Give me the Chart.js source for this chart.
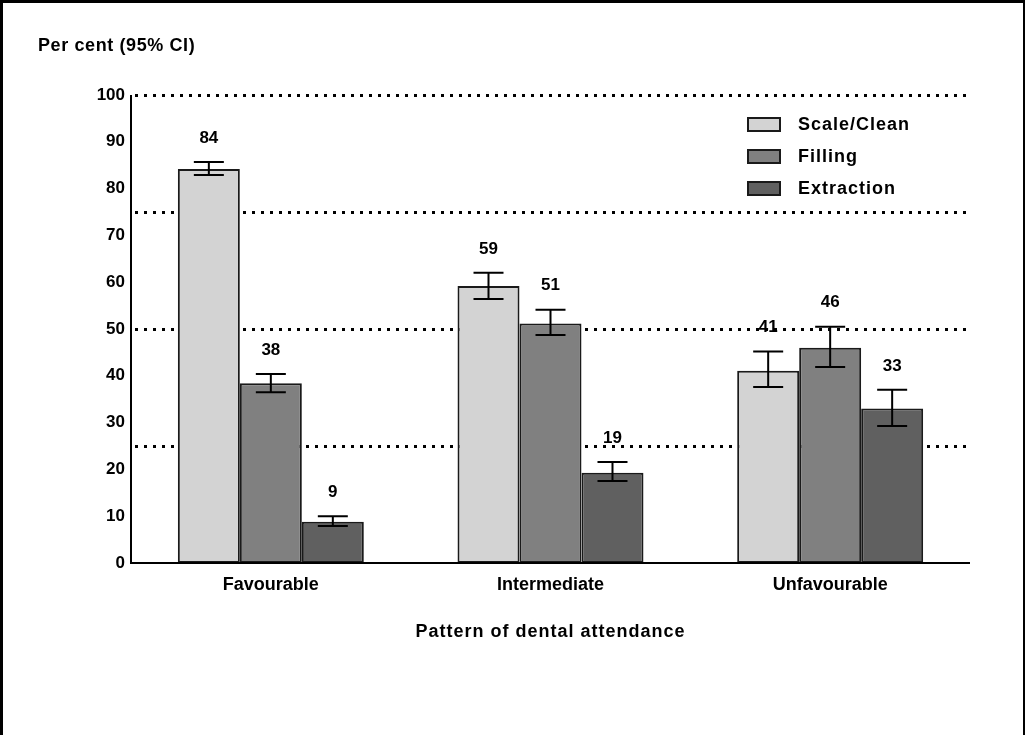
<!DOCTYPE html>
<html>
<head>
<meta charset="utf-8">
<script src="https://cdn.jsdelivr.net/npm/chart.js@4.4.1/dist/chart.umd.min.js"></script>
<style>
  html, body { margin: 0; padding: 0; background: #fff; }
  #wrap { width: 1025px; height: 735px; position: relative; }
</style>
</head>
<body>
<div id="wrap"><canvas id="c" width="1025" height="735"></canvas></div>
<script>
// ---- data ----
const categories = ['Favourable', 'Intermediate', 'Unfavourable'];
const seriesNames = ['Scale/Clean', 'Filling', 'Extraction'];
const scaleClean = [84.2, 59.2, 41.1];
const filling = [38.4, 51.2, 46.0];
const extraction = [8.8, 19.3, 33.0];
const scaleCleanLow = [82.9, 56.4, 37.6];
const scaleCleanHigh = [85.7, 62.0, 45.2];
const fillingLow = [36.5, 48.7, 41.9];
const fillingHigh = [40.4, 54.1, 50.5];
const extractionLow = [7.9, 17.5, 29.3];
const extractionHigh = [10.0, 21.6, 37.0];
const valueLabels = [[84, 59, 41], [38, 51, 46], [9, 19, 33]];
const yTicks = [0, 10, 20, 30, 40, 50, 60, 70, 80, 90, 100];
const gridLevels = [25, 50, 75, 100];
const yTitle = 'Per cent (95% CI)';
const xTitle = 'Pattern of dental attendance';

const colors = ['#d3d3d3', '#808080', '#606060'];
const lows = [scaleCleanLow, fillingLow, extractionLow];
const highs = [scaleCleanHigh, fillingHigh, extractionHigh];
const FONT = 'Arial, "Liberation Sans", sans-serif';

const decorPlugin = {
  id: 'decor',
  beforeDatasetsDraw(chart) {
    const ctx = chart.ctx, ys = chart.scales.y, a = chart.chartArea;
    ctx.save();
    ctx.strokeStyle = '#000';
    ctx.lineWidth = 3;
    ctx.setLineDash([3, 6]);
    gridLevels.forEach(v => {
      const y = Math.round(ys.getPixelForValue(v)) + 0.5;
      ctx.beginPath();
      ctx.moveTo(a.left + 4, y);
      ctx.lineTo(a.right, y);
      ctx.stroke();
    });
    ctx.restore();
  },
  afterDatasetsDraw(chart) {
    const ctx = chart.ctx, ys = chart.scales.y, a = chart.chartArea;
    ctx.save();
    chart.data.datasets.forEach((ds, di) => {
      const meta = chart.getDatasetMeta(di);
      meta.data.forEach((bar, i) => {
        const x = bar.x;
        const yh = ys.getPixelForValue(highs[di][i]);
        const yl = ys.getPixelForValue(lows[di][i]);
        ctx.strokeStyle = '#000';
        ctx.lineWidth = 2;
        ctx.setLineDash([]);
        ctx.beginPath();
        ctx.moveTo(x, yh); ctx.lineTo(x, yl);
        ctx.moveTo(x - 15, yh); ctx.lineTo(x + 15, yh);
        ctx.moveTo(x - 15, yl); ctx.lineTo(x + 15, yl);
        ctx.stroke();
        ctx.fillStyle = '#000';
        ctx.font = 'bold 17px ' + FONT;
        ctx.textAlign = 'center';
        ctx.textBaseline = 'middle';
        ctx.fillText(String(valueLabels[di][i]), x, yh - 24);
      });
    });
    ctx.strokeStyle = '#000';
    ctx.lineWidth = 2;
    ctx.beginPath();
    ctx.moveTo(a.left, a.top); ctx.lineTo(a.left, a.bottom);
    ctx.lineTo(a.right, a.bottom);
    ctx.stroke();
    ctx.restore();
  },
  afterDraw(chart) {
    const ctx = chart.ctx, a = chart.chartArea;
    ctx.save();
    ctx.fillStyle = '#000';
    ctx.fillRect(0, 0, 3, 735);
    ctx.fillRect(0, 0, 1025, 3);
    ctx.fillRect(1023, 0, 2, 735);
    ctx.font = 'bold 18px ' + FONT;
    ctx.textBaseline = 'middle';
    ctx.textAlign = 'left';
    try { ctx.letterSpacing = '0.6px'; } catch (e) {}
    ctx.fillText(yTitle, 38, 46);
    ctx.textAlign = 'center';
    try { ctx.letterSpacing = '1px'; } catch (e) {}
    ctx.fillText(xTitle, (a.left + a.right) / 2, 632);
    chart.data.datasets.forEach((ds, di) => {
      const yc = 124 + di * 32;
      ctx.fillStyle = ds.backgroundColor;
      ctx.fillRect(748, yc - 6, 32, 13);
      ctx.strokeStyle = '#1a1a1a';
      ctx.lineWidth = 2;
      ctx.strokeRect(748, yc - 6, 32, 13);
      ctx.fillStyle = '#000';
      ctx.textAlign = 'left';
      ctx.fillText(ds.label, 798, yc + 1);
    });
    ctx.restore();
  }
};

new Chart(document.getElementById('c'), {
  type: 'bar',
  data: {
    labels: categories,
    datasets: [scaleClean, filling, extraction].map((vals, i) => ({
      label: seriesNames[i],
      data: vals,
      backgroundColor: colors[i],
      borderColor: '#1a1a1a',
      borderWidth: 2,
      borderSkipped: false,
      categoryPercentage: 0.665,
      barPercentage: 1.0
    }))
  },
  options: {
    responsive: false,
    animation: false,
    devicePixelRatio: 1,
    layout: { padding: { top: 95, right: 55, bottom: 0, left: 0 } },
    plugins: { legend: { display: false }, tooltip: { enabled: false } },
    scales: {
      x: {
        grid: { display: false, drawTicks: false },
        border: { display: false },
        ticks: { color: '#000', font: { family: FONT, size: 18, weight: 'bold' }, padding: 11 },
        afterFit(s) { s.height = 172; }
      },
      y: {
        min: 0, max: 100,
        afterBuildTicks(s) { s.ticks = yTicks.map(v => ({ value: v })); },
        grid: { display: false, drawTicks: false },
        border: { display: false },
        ticks: { color: '#000', font: { family: FONT, size: 17, weight: 'bold' }, padding: 6 },
        afterFit(s) { s.width = 131; }
      }
    }
  },
  plugins: [decorPlugin]
});
</script>
</body>
</html>
